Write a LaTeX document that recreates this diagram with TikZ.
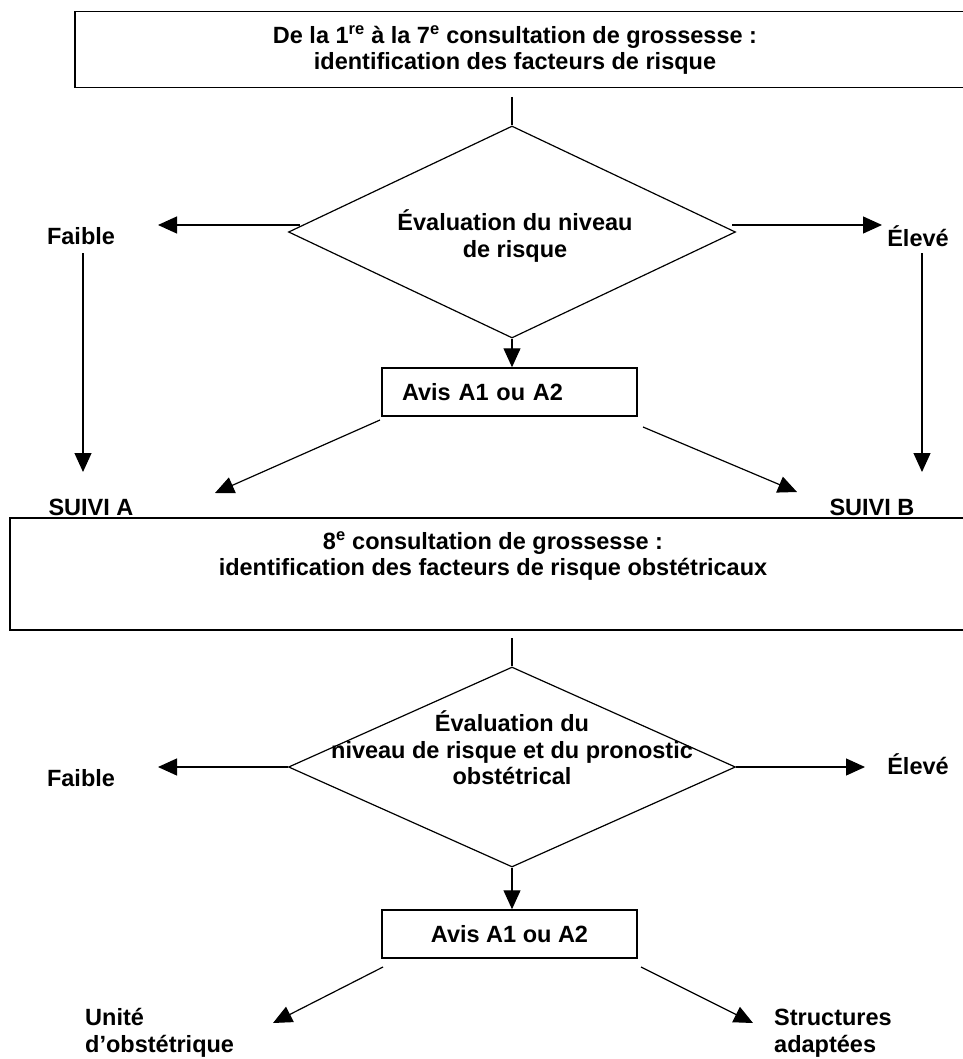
\documentclass[tikz,border=0pt]{standalone}
\usepackage{fontspec}
\setmainfont{Liberation Sans}
\usetikzlibrary{arrows.meta,shapes.geometric,calc}
\begin{document}
\begin{tikzpicture}[x=1pt,y=-1pt,
  every node/.style={font=\bfseries\fontsize{23.5}{26.5}\selectfont, inner sep=0},
  lbl/.style={align=center},
  frame/.style={draw, line width=1.5pt},
  dia/.style={draw, diamond, line width=1.2pt, minimum width=447pt, minimum height=#1},
  line/.style={line width=1.2pt},
  arr/.style={line width=1.2pt, -{Triangle[length=19pt,width=17pt]}},
  ]
\useasboundingbox (0,0) rectangle (962,1059);
% top box
\node[frame, anchor=north west, minimum width=920pt, minimum height=76pt] (top) at (74,11) {};
\node[lbl] (toptxt) at (515,50) {De la 1\textsuperscript{re} à la 7\textsuperscript{e} consultation de grossesse :\\identification des facteurs de risque};
\coordinate (c1) at (512,97);
\node[dia=212pt] (d1) at (512,232) {};
\draw[line] (c1) -- (d1.north);
\node[lbl] (d1txt) at (515,236) {Évaluation du niveau\\de risque};
\node (faible1) at (81,236) {Faible};
\node (eleve1) at (918,236) {Élevé};
\draw[arr] ($(d1.west)+(12,-7)$) coordinate (l1s) -- (158,225) coordinate (l1e);
\draw[arr] ($(d1.east)+(-4,-7)$) coordinate (r1s) -- (882,225) coordinate (r1e);
\coordinate (fa1) at (83,253);
\coordinate (sa) at (83,472);
\draw[arr] (fa1) -- (sa);
\coordinate (el1) at (922,253);
\coordinate (sb) at (922,472);
\draw[arr] (el1) -- (sb);
\node[frame, minimum width=255pt, minimum height=48pt, text width=215pt, inner xsep=20pt, align=left] (avis1) at (509.5,392) {Avis A1 ou A2};
\draw[arr] (d1.south) -- (d1.south |- avis1.north);
\coordinate (g1s) at (380,420);
\coordinate (g1e) at (215,493);
\draw[arr] (g1s) -- (g1e);
\coordinate (h1s) at (643,427);
\coordinate (h1e) at (797,492);
\draw[arr] (h1s) -- (h1e);
\node (suiviA) at (91,507) {SUIVI A};
\node (suiviB) at (872,507) {SUIVI B};
% second box
\node[frame, anchor=north west, minimum width=990pt, minimum height=112pt] (box2) at (9,517) {};
\node[lbl] (box2txt) at (493,556) {8\textsuperscript{e} consultation de grossesse :\\identification des facteurs de risque obstétricaux};
\coordinate (c2) at (512,638);
\node[dia=200pt] (d2) at (512,767) {};
\draw[line] (c2) -- (d2.north);
\node[lbl] (d2txt) at (512,748) {Évaluation du\\niveau de risque et du pronostic\\obstétrical};
\coordinate (l2e) at (158,767);
\coordinate (r2e) at (865,767);
\draw[arr] (d2.west) -- (l2e);
\draw[arr] (d2.east) -- (r2e);
\node (faible2) at (81,778) {Faible};
\node (eleve2) at (918,764) {Élevé};
\node[frame, minimum width=255pt, minimum height=48pt] (avis2) at (509.5,934) {Avis A1 ou A2};
\draw[arr] (d2.south) -- (d2.south |- avis2.north);
\coordinate (g2s) at (383,967);
\coordinate (g2e) at (273,1023);
\draw[arr] (g2s) -- (g2e);
\coordinate (h2s) at (641,967);
\coordinate (h2e) at (753,1023);
\draw[arr] (h2s) -- (h2e);
\node[anchor=west, align=left] (unite) at (85,1033) {Unité\\d’obstétrique};
\node[anchor=west, align=left] (struct) at (774,1033) {Structures\\adaptées};
\end{tikzpicture}
\end{document}
